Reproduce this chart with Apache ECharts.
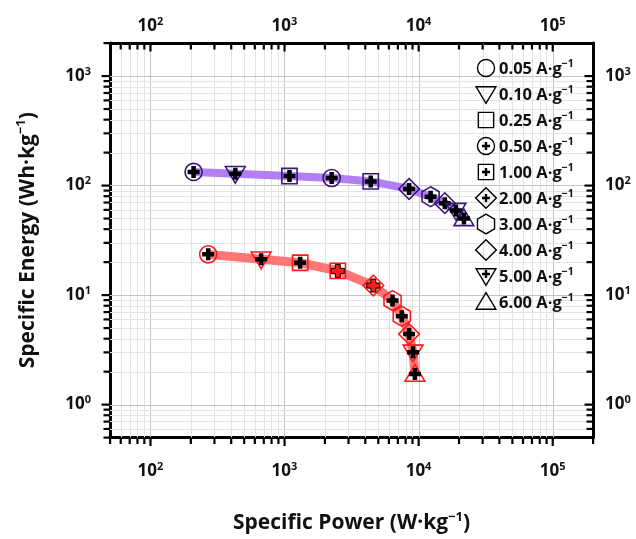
<!DOCTYPE html>
<html>
<head>
<meta charset="utf-8">
<script src="https://cdn.jsdelivr.net/npm/echarts@6/dist/echarts.min.js"></script>
<style>
html, body { margin: 0; padding: 0; background: #ffffff; }
#chart { width: 636px; height: 539px; }
</style>
</head>
<body>
<div id="chart"></div>
<script>
// Current densities (A·g⁻¹) shown in the legend, with the marker used for each
const currentDensities = ['0.05', '0.10', '0.25', '0.50', '1.00', '2.00', '3.00', '4.00', '5.00', '6.00'];
const legendShapes = ['circle', 'triDown', 'square', 'circlePlus', 'squarePlus', 'diamondPlus', 'hexagon', 'diamond', 'triDownPlus', 'triUp'];

// Upper (purple) Ragone curve: specific power (W/kg) and specific energy (Wh/kg)
const purplePower  = [210, 430, 1090, 2250, 4400, 8500, 12300, 15700, 19000, 21800];
const purpleEnergy = [133, 128, 122, 117, 109, 93, 79, 69, 59, 50];
const purpleShapes = ['circle', 'triDown', 'square', 'circle', 'square', 'diamond', 'hexagon', 'diamond', 'triDown', 'triUp'];

// Lower (red) Ragone curve
const redPower  = [270, 670, 1310, 2500, 4600, 6400, 7500, 8500, 9100, 9400];
const redEnergy = [23.5, 21.2, 19.7, 16.6, 12.2, 8.9, 6.4, 4.4, 3.0, 1.9];
const redShapes = ['circle', 'triDown', 'square', 'square', 'diamond', 'hexagon', 'hexagon', 'diamond', 'triDown', 'triUp'];

// Axis ranges and labelled decades
const xRange = [50, 200000];
const yRange = [0.5, 2000];
const xTickExponents = [2, 3, 4, 5];
const yTickExponents = [0, 1, 2, 3];

const FONT = '"Open Sans", Lato, "Liberation Sans", sans-serif';
const PURPLE_LINE = '#b27ff5';
const PURPLE_EDGE = '#3a1877';
const RED_LINE = '#ff7676';
const RED_EDGE = '#ff1a1a';

// 1..9 × 10^n positions inside a range; flag 1 marks a decade
function logTickValues(range) {
  const out = [];
  for (let e = -2; e <= 7; e++) {
    for (let m = 1; m <= 9; m++) {
      const v = m * Math.pow(10, e);
      if (v >= range[0] * 0.9999 && v <= range[1] * 1.0001) out.push([v, m === 1 ? 1 : 0]);
    }
  }
  return out;
}

function decadeLabel(exps) {
  return function (v) {
    const lg = Math.log10(v);
    const e = Math.round(lg);
    if (Math.abs(lg - e) > 1e-6 || exps.indexOf(e) < 0) return '';
    return '{b|10}{s|' + e + '}';
  };
}

const labelRich = {
  b: { fontFamily: FONT, fontWeight: 'bold', fontSize: 17, color: '#111', lineHeight: 20 },
  s: { fontFamily: FONT, fontWeight: 'bold', fontSize: 11, color: '#111', lineHeight: 11, verticalAlign: 'top' }
};

// Outline shapes drawn around each point / legend entry
function shapeEls(kind, cx, cy, size, stroke, lw) {
  const r = size / 2;
  const style = { fill: 'none', stroke: stroke, lineWidth: lw };
  const base = kind.replace('Plus', '');
  let el;
  switch (base) {
    case 'circle':
      el = { type: 'circle', shape: { cx: cx, cy: cy, r: r * 0.95 }, style: style }; break;
    case 'square':
      el = { type: 'rect', shape: { x: cx - r * 0.85, y: cy - r * 0.85, width: r * 1.7, height: r * 1.7 }, style: style }; break;
    case 'triDown':
      el = { type: 'polygon', shape: { points: [[cx - r * 1.1, cy - r * 0.8], [cx + r * 1.1, cy - r * 0.8], [cx, cy + r * 1.05]] }, style: style }; break;
    case 'triUp':
      el = { type: 'polygon', shape: { points: [[cx - r * 1.1, cy + r * 0.8], [cx + r * 1.1, cy + r * 0.8], [cx, cy - r * 1.05]] }, style: style }; break;
    case 'diamond':
      el = { type: 'polygon', shape: { points: [[cx, cy - r * 1.15], [cx + r * 1.15, cy], [cx, cy + r * 1.15], [cx - r * 1.15, cy]] }, style: style }; break;
    case 'hexagon':
      el = { type: 'polygon', shape: { points: [[cx, cy - r * 1.1], [cx + r * 0.95, cy - r * 0.55], [cx + r * 0.95, cy + r * 0.55], [cx, cy + r * 1.1], [cx - r * 0.95, cy + r * 0.55], [cx - r * 0.95, cy - r * 0.55]] }, style: style }; break;
  }
  return [el];
}

// Solid plus sign; optional outline
function plusEl(cx, cy, arm, thick, fill, stroke) {
  const a = arm / 2, t = thick / 2;
  return {
    type: 'polygon',
    shape: { points: [
      [cx - t, cy - a], [cx + t, cy - a], [cx + t, cy - t], [cx + a, cy - t], [cx + a, cy + t], [cx + t, cy + t],
      [cx + t, cy + a], [cx - t, cy + a], [cx - t, cy + t], [cx - a, cy + t], [cx - a, cy - t], [cx - t, cy - t]
    ] },
    style: { fill: fill, stroke: stroke || null, lineWidth: stroke ? 1 : 0 }
  };
}

function markerSeries(name, power, energy, shapes, edge, accentIdx) {
  return {
    type: 'custom', name: name, z: 4, clip: false,
    data: power.map(function (p, i) { return [p, energy[i]]; }),
    renderItem: function (params, api) {
      const i = params.dataIndex;
      const pt = api.coord([api.value(0), api.value(1)]);
      const kids = shapeEls(shapes[i], pt[0], pt[1], 18, edge, 1.6);
      if (accentIdx.indexOf(i) >= 0) kids.push(plusEl(pt[0], pt[1], 13, 5, edge, '#000'));
      else kids.push(plusEl(pt[0], pt[1], 12, 4.5, '#000'));
      return { type: 'group', children: kids };
    }
  };
}

const xTickData = logTickValues(xRange).map(function (t) { return [t[0], yRange[0], t[1]]; });
const yTickData = logTickValues(yRange).map(function (t) { return [xRange[0], t[0], t[1]]; });

function axisMarks(vertical) {
  return {
    type: 'custom', z: 1, clip: false, silent: true,
    data: vertical ? xTickData : yTickData,
    renderItem: function (params, api) {
      const major = api.value(2) === 1;
      const len = major ? 7 : 5;
      const kids = [];
      if (vertical) {
        const v = api.value(0);
        const b = api.coord([v, yRange[0]]), t = api.coord([v, yRange[1]]);
        const x = Math.round(b[0]) + 0.5;
        if (v > xRange[0] * 1.001 && v < xRange[1] * 0.999) {
          kids.push({ type: 'line', shape: { x1: x, y1: t[1], x2: x, y2: b[1] }, style: { stroke: major ? '#c4c4c4' : '#e4e4e4', lineWidth: 1 } });
        }
        // bottom ticks point down, top ticks point down into the plot
        kids.push({ type: 'rect', shape: { x: b[0] - 1, y: b[1], width: 2.2, height: len + 1.5 }, style: { fill: '#000' }, z2: 10 });
        kids.push({ type: 'rect', shape: { x: t[0] - 1, y: t[1], width: 2.2, height: len + 1.5 }, style: { fill: '#000' }, z2: 10 });
      } else {
        const v = api.value(1);
        const l = api.coord([xRange[0], v]), r = api.coord([xRange[1], v]);
        const y = Math.round(l[1]) + 0.5;
        if (v > yRange[0] * 1.001 && v < yRange[1] * 0.999) {
          kids.push({ type: 'line', shape: { x1: l[0], y1: y, x2: r[0], y2: y }, style: { stroke: major ? '#c4c4c4' : '#e4e4e4', lineWidth: 1 } });
        }
        // left ticks point left, right ticks point left into the plot
        kids.push({ type: 'rect', shape: { x: l[0] - len - 1.5, y: l[1] - 1, width: len + 1.5, height: 2.2 }, style: { fill: '#000' }, z2: 10 });
        kids.push({ type: 'rect', shape: { x: r[0] - len - 1.5, y: r[1] - 1, width: len + 1.5, height: 2.2 }, style: { fill: '#000' }, z2: 10 });
      }
      return { type: 'group', children: kids };
    }
  };
}

// Legend drawn inside the upper-right corner of the plot
const legendSeries = {
  type: 'custom', z: 5, clip: false, silent: true,
  data: currentDensities.map(function (d, i) { return [xRange[0], yRange[0], i]; }),
  renderItem: function (params, api) {
    const i = params.dataIndex;
    const cs = params.coordSys;
    const cx = cs.x + cs.width - 107;
    const cy = cs.y + 25 + i * 26;
    const kind = legendShapes[i];
    const kids = shapeEls(kind, cx, cy, 18, '#000', 1.4);
    if (kind.indexOf('Plus') >= 0) kids.push(plusEl(cx, cy + (kind === 'triDownPlus' ? -2 : 0), 8, 2.4, '#000'));
    kids.push({
      type: 'text',
      style: {
        x: cx + 13, y: cy + 1, verticalAlign: 'middle', align: 'left',
        text: '{a|' + currentDensities[i] + ' A·g}{s|−1}',
        rich: {
          a: { fontFamily: FONT, fontWeight: 'bold', fontSize: 16.5, fill: '#111', lineHeight: 20 },
          s: { fontFamily: FONT, fontWeight: 'bold', fontSize: 10.5, fill: '#111', lineHeight: 11, verticalAlign: 'top' }
        }
      }
    });
    return { type: 'group', children: kids };
  }
};

const chart = echarts.init(document.getElementById('chart'), null, { renderer: 'canvas' });

const axisLineStyle = { show: true, lineStyle: { color: '#000', width: 3 } };
const titleRich = {
  t: { fontFamily: FONT, fontWeight: 'bold', fontSize: 21, color: '#111', lineHeight: 26 },
  s: { fontFamily: FONT, fontWeight: 'bold', fontSize: 13, color: '#111', lineHeight: 13, verticalAlign: 'top' }
};

chart.setOption({
  backgroundColor: '#ffffff',
  animation: false,
  grid: { left: 110, top: 43, right: 43, bottom: 97, containLabel: false },
  xAxis: [
    {
      type: 'log', logBase: 10, min: xRange[0], max: xRange[1], position: 'bottom',
      axisLine: axisLineStyle, axisTick: { show: false }, splitLine: { show: false }, minorTick: { show: false },
      axisLabel: { formatter: decadeLabel(xTickExponents), margin: 24, rich: labelRich, showMinLabel: false, showMaxLabel: false },
      name: '{t|Specific Power (W·kg}{s|−1}{t|)}', nameLocation: 'middle', nameGap: 73,
      nameTextStyle: { rich: titleRich }
    },
    {
      type: 'log', logBase: 10, min: xRange[0], max: xRange[1], position: 'top',
      axisLine: axisLineStyle, axisTick: { show: false }, splitLine: { show: false },
      axisLabel: { formatter: decadeLabel(xTickExponents), margin: 7, rich: labelRich, showMinLabel: false, showMaxLabel: false }
    }
  ],
  yAxis: [
    {
      type: 'log', logBase: 10, min: yRange[0], max: yRange[1], position: 'left',
      axisLine: axisLineStyle, axisTick: { show: false }, splitLine: { show: false },
      axisLabel: { formatter: decadeLabel(yTickExponents), margin: 19, rich: labelRich, showMinLabel: false, showMaxLabel: false },
      name: '{t|Specific Energy (Wh·kg}{s|−1}{t|)}', nameLocation: 'middle', nameGap: 69,
      nameTextStyle: { rich: titleRich }
    },
    {
      type: 'log', logBase: 10, min: yRange[0], max: yRange[1], position: 'right',
      axisLine: axisLineStyle, axisTick: { show: false }, splitLine: { show: false },
      axisLabel: { formatter: decadeLabel(yTickExponents), margin: 12, rich: labelRich, showMinLabel: false, showMaxLabel: false }
    }
  ],
  series: [
    axisMarks(true),
    axisMarks(false),
    {
      type: 'line', z: 3, symbol: 'none', silent: true,
      data: purplePower.map(function (p, i) { return [p, purpleEnergy[i]]; }),
      lineStyle: { color: PURPLE_LINE, width: 8 }
    },
    {
      type: 'line', z: 3, symbol: 'none', silent: true,
      data: redPower.map(function (p, i) { return [p, redEnergy[i]]; }),
      lineStyle: { color: RED_LINE, width: 9 }
    },
    markerSeries('purple', purplePower, purpleEnergy, purpleShapes, PURPLE_EDGE, []),
    markerSeries('red', redPower, redEnergy, redShapes, RED_EDGE, [3, 4]),
    legendSeries
  ]
});
</script>
</body>
</html>
